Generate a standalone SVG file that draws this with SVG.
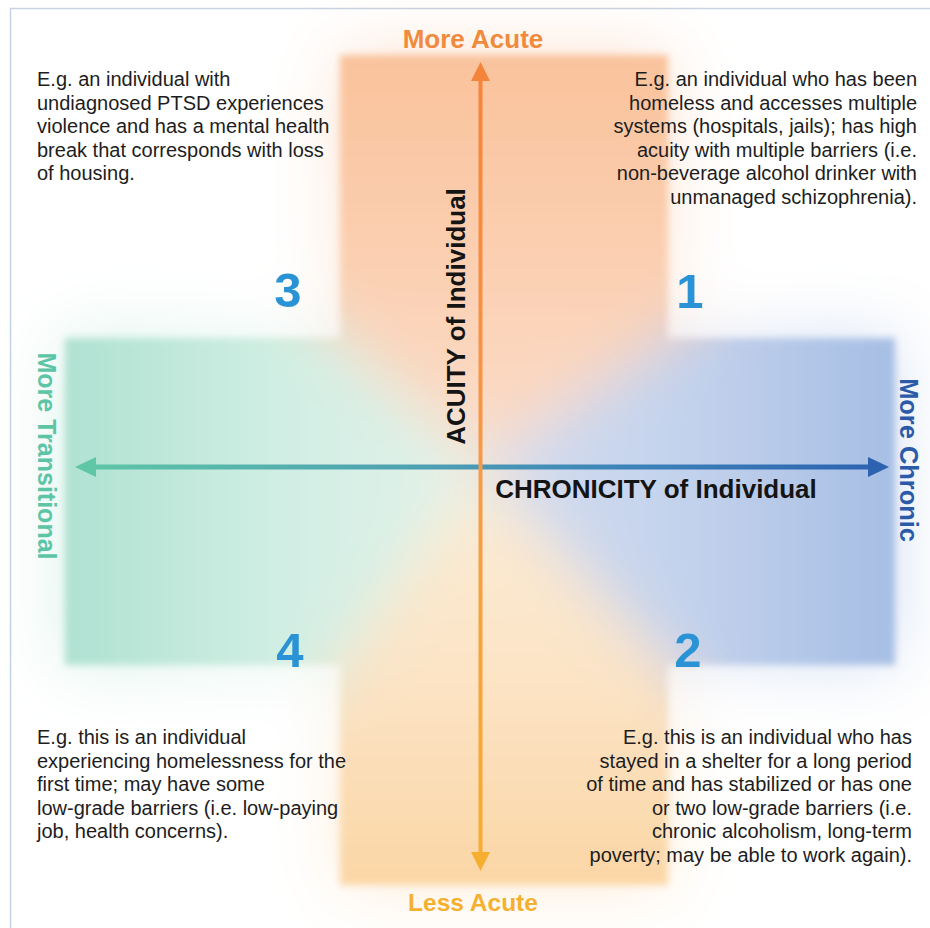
<svg xmlns="http://www.w3.org/2000/svg" width="930" height="928" viewBox="0 0 930 928">
  <defs>
    <style>
      .body { font-family: "Liberation Sans", Arial, sans-serif; font-size: 20px; fill: #1d1d1d; }
      .end { text-anchor: end; }
      .axis { font-family: "Liberation Sans", Arial, sans-serif; font-weight: bold; font-size: 26px; fill: #141414; text-anchor: middle; }
      .pole { font-family: "Liberation Sans", Arial, sans-serif; font-weight: bold; text-anchor: middle; }
      .num { font-family: "Liberation Sans", Arial, sans-serif; font-weight: bold; font-size: 49px; fill: #2a93d5; text-anchor: middle; }
    </style>

    <!-- colour wedges meeting at the axis crossing -->
    <linearGradient id="gTop" gradientUnits="userSpaceOnUse" x1="0" y1="55" x2="0" y2="466">
      <stop offset="0" stop-color="#f9c29b"/>
      <stop offset="0.6" stop-color="#fbd2b6"/>
      <stop offset="1" stop-color="#fcdecb"/>
    </linearGradient>
    <linearGradient id="gRight" gradientUnits="userSpaceOnUse" x1="480" y1="0" x2="895" y2="0">
      <stop offset="0" stop-color="#d5def0"/>
      <stop offset="0.5" stop-color="#c3d2ec"/>
      <stop offset="1" stop-color="#a6bee4"/>
    </linearGradient>
    <linearGradient id="gBottom" gradientUnits="userSpaceOnUse" x1="0" y1="466" x2="0" y2="885">
      <stop offset="0" stop-color="#fbecd6"/>
      <stop offset="0.5" stop-color="#fce4c6"/>
      <stop offset="1" stop-color="#fbd6a5"/>
    </linearGradient>
    <linearGradient id="gLeft" gradientUnits="userSpaceOnUse" x1="65" y1="0" x2="480" y2="0">
      <stop offset="0" stop-color="#aee1d1"/>
      <stop offset="0.5" stop-color="#d0eee3"/>
      <stop offset="1" stop-color="#e4f3eb"/>
    </linearGradient>

    <linearGradient id="gAcuity" gradientUnits="userSpaceOnUse" x1="0" y1="62" x2="0" y2="871">
      <stop offset="0" stop-color="#f4843a"/>
      <stop offset="0.5" stop-color="#f79a48"/>
      <stop offset="1" stop-color="#f6ae30"/>
    </linearGradient>
    <linearGradient id="gChron" gradientUnits="userSpaceOnUse" x1="75" y1="0" x2="889" y2="0">
      <stop offset="0" stop-color="#5fc7a6"/>
      <stop offset="0.45" stop-color="#4c9db3"/>
      <stop offset="0.7" stop-color="#3b80ba"/>
      <stop offset="1" stop-color="#2c62b0"/>
    </linearGradient>

    <path id="crossShape" d="M340,55 H668 V338 H895 V665 H668 V885 H340 V665 H65 V338 H340 Z"/>

    <filter id="mix" filterUnits="userSpaceOnUse" x="-300" y="-300" width="1600" height="1600">
      <feGaussianBlur stdDeviation="30"/>
    </filter>
    <filter id="edge" filterUnits="userSpaceOnUse" x="-50" y="-50" width="1100" height="1100">
      <feGaussianBlur stdDeviation="3.5"/>
    </filter>
    <filter id="haze" filterUnits="userSpaceOnUse" x="-200" y="-200" width="1400" height="1400">
      <feGaussianBlur stdDeviation="35"/>
    </filter>

    <mask id="crossMask" maskUnits="userSpaceOnUse" x="0" y="0" width="930" height="928">
      <use href="#crossShape" fill="#fff" filter="url(#edge)"/>
    </mask>
    <mask id="hazeMask" maskUnits="userSpaceOnUse" x="0" y="0" width="930" height="928">
      <use href="#crossShape" fill="#fff" opacity="0.5" filter="url(#haze)"/>
    </mask>

    <g id="field">
      <polygon points="480,466 -220,-174 1420,-174" fill="url(#gTop)"/>
      <polygon points="480,466 1420,-174 1420,1461" fill="url(#gRight)"/>
      <polygon points="480,466 1420,1461 -220,1461" fill="url(#gBottom)"/>
      <polygon points="480,466 -220,1461 -220,-174" fill="url(#gLeft)"/>
    </g>
  </defs>

  <!-- page and frame -->
  <rect x="0" y="0" width="930" height="928" fill="#ffffff"/>
  <rect x="10.5" y="8.5" width="940" height="940" fill="none" stroke="#c6d3e2" stroke-width="1.5"/>

  <!-- soft colour field behind the axes -->
  <g id="background">
    <g mask="url(#hazeMask)">
      <use href="#field" filter="url(#mix)"/>
    </g>
    <g mask="url(#crossMask)">
      <use href="#field" filter="url(#mix)"/>
    </g>
  </g>

  <!-- axes -->
  <g id="connectors">
    <g id="chronicity-axis">
      <line x1="92" y1="467" x2="872" y2="467" stroke="url(#gChron)" stroke-width="5"/>
      <polygon points="75,467 96,457 96,477" fill="#5fc7a6"/>
      <polygon points="889,467 868,457 868,477" fill="#2c62b0"/>
    </g>
    <g id="acuity-axis">
      <line x1="480.5" y1="78" x2="480.5" y2="855" stroke="url(#gAcuity)" stroke-width="4"/>
      <polygon points="480.5,62 471,81 490,81" fill="#f4843a"/>
      <polygon points="480.5,871 471,852 490,852" fill="#f6ae30"/>
    </g>
  </g>

  <!-- axis end labels -->
  <g id="label-more-acute">
    <text class="pole" x="473" y="48" font-size="26" fill="#f08a3c">More Acute</text>
  </g>
  <g id="label-less-acute">
    <text class="pole" x="473" y="911" font-size="24.5" fill="#f5b030">Less Acute</text>
  </g>
  <g id="label-more-transitional">
    <text class="pole" transform="translate(37.5,456) rotate(90)" font-size="25" fill="#5cc5a5">More Transitional</text>
  </g>
  <g id="label-more-chronic">
    <text class="pole" transform="translate(900,460) rotate(90)" font-size="25.4" fill="#2b5aa8">More Chronic</text>
  </g>

  <!-- axis titles -->
  <g id="title-acuity">
    <text class="axis" transform="translate(465,316.5) rotate(-90)">ACUITY of Individual</text>
  </g>
  <g id="title-chronicity">
    <text class="axis" x="656" y="498">CHRONICITY of Individual</text>
  </g>

  <!-- quadrant numbers -->
  <g id="quadrant-1"><text class="num" x="690" y="308">1</text></g>
  <g id="quadrant-2"><text class="num" x="688" y="667">2</text></g>
  <g id="quadrant-3"><text class="num" x="288" y="307">3</text></g>
  <g id="quadrant-4"><text class="num" x="290" y="667">4</text></g>

  <!-- quadrant examples -->
  <g id="example-3">
    <text class="body" x="37" y="86">E.g. an individual with</text>
    <text class="body" x="37" y="109.5">undiagnosed PTSD experiences</text>
    <text class="body" x="37" y="133">violence and has a mental health</text>
    <text class="body" x="37" y="156.5">break that corresponds with loss</text>
    <text class="body" x="37" y="180">of housing.</text>
  </g>
  <g id="example-1">
    <text class="body end" x="917" y="86">E.g. an individual who has been</text>
    <text class="body end" x="917" y="109.5">homeless and accesses multiple</text>
    <text class="body end" x="917" y="133">systems (hospitals, jails); has high</text>
    <text class="body end" x="917" y="156.5">acuity with multiple barriers (i.e.</text>
    <text class="body end" x="917" y="180">non-beverage alcohol drinker with</text>
    <text class="body end" x="917" y="203.5">unmanaged schizophrenia).</text>
  </g>
  <g id="example-4">
    <text class="body" x="37" y="744">E.g. this is an individual</text>
    <text class="body" x="37" y="767.5">experiencing homelessness for the</text>
    <text class="body" x="37" y="791">first time; may have some</text>
    <text class="body" x="37" y="814.5">low-grade barriers (i.e. low-paying</text>
    <text class="body" x="37" y="838">job, health concerns).</text>
  </g>
  <g id="example-2">
    <text class="body end" x="912" y="744">E.g. this is an individual who has</text>
    <text class="body end" x="912" y="767.5">stayed in a shelter for a long period</text>
    <text class="body end" x="912" y="791">of time and has stabilized or has one</text>
    <text class="body end" x="912" y="814.5">or two low-grade barriers (i.e.</text>
    <text class="body end" x="912" y="838">chronic alcoholism, long-term</text>
    <text class="body end" x="912" y="861.5">poverty; may be able to work again).</text>
  </g>
</svg>
